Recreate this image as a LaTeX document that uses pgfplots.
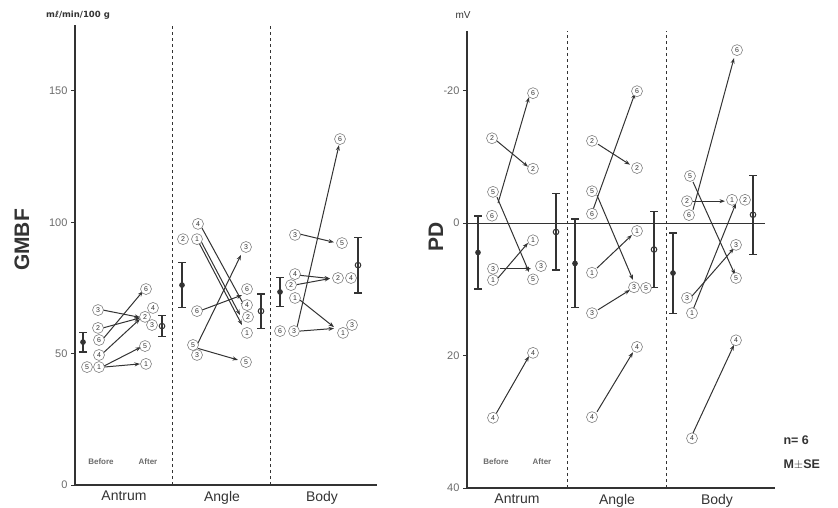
\documentclass[border=0pt]{standalone}
\usepackage{pgfplots}
\pgfplotsset{compat=1.18}
\usepackage{fontspec}
\setmainfont{Liberation Sans}
\newfontfamily\dejavu{DejaVu Sans}
\usetikzlibrary{arrows.meta}
\definecolor{ink}{gray}{0.2}
\definecolor{circ}{gray}{0.5}
\definecolor{tick}{gray}{0.42}

% circle labels: x y l
\pgfplotstableread{
x y l
98 66.6 3
98 59.8 2
99 55.2 6
99 49.5 4
87 44.9 5
99 44.9 1
146 74.6 6
153 67.4 4
145 64.0 2
152 60.9 3
145 52.9 5
146 46.1 1
198 99.4 4
183 93.6 2
197 93.6 1
197 66.2 6
193 53.3 5
197 49.5 3
246 90.6 3
247 74.6 6
247 68.5 4
248 64.0 2
247 57.9 1
246 46.8 5
295 95.2 3
295 80.3 4
291 76.1 2
295 71.2 1
280 58.6 6
294 58.6 3
340 131.7 6
342 92.1 5
338 78.8 2
351 78.8 4
352 60.9 3
343 57.9 1
}\leftcirc

\pgfplotstableread{
x y u v
103 66.6 37 -2.8
103 59.8 37 3.8
103 55.6 40 18.2
103 50.2 37 13
104 45.3 37 7.2
104 44.9 36 1.2
202 97.8 43 -30
201 92.8 39 -28.1
199 92.2 43 -31.3
202 66.6 40 5.7
196 52.5 45 35.1
198 52.0 40 -4.4
300 95.5 34 -3.1
298 79.9 32 -1.3
297 76.3 33 2.3
300 70.4 34 -10.3
300 58.6 34 1.0
297 60.0 42 69.4
}\leftarr

\pgfplotstableread{
x y l
492 -12.8 2
493 -4.7 5
492 -1.1 6
493 6.9 3
493 8.6 1
493 29.4 4
533 -19.6 6
533 -8.2 2
533 2.6 1
541 6.5 3
533 8.5 5
533 19.6 4
592 -12.4 2
592 -4.8 5
592 -1.4 6
592 7.5 1
592 13.6 3
592 29.3 4
637 -19.9 6
637 -8.3 2
637 1.2 1
634 9.7 3
646 9.8 5
637 18.7 4
690 -7.1 5
687 -3.3 2
689 -1.2 6
687 11.3 3
692 13.6 1
692 32.5 4
737 -26.1 6
732 -3.5 1
745 -3.5 2
736 3.3 3
736 8.3 5
736 17.7 4
}\rightcirc

\pgfplotstableread{
x y u v
498 -3.0 31 -16
496 -12.5 32 4
497 -3.9 32 11.3
500 6.9 31 0
498 8.3 30 -5.3
496 28.8 33 -8.7
593 -2.0 42 -17.6
598 -11.9 32 3.1
597 -4.2 36 12.8
597 6.8 35 -5
598 13.1 32 -3
597 28.5 36 -9
693 -2.0 41 -22.9
692 -3.3 33 0
693 -6.2 42 14
691 11.2 43 -7.4
693 13.1 43 -16.1
693 31.7 41 -13.3
}\rightarr

\pgfplotsset{
  circstyle/.style={draw=none, mark=none, nodes near coords, point meta=explicit symbolic,
    every node near coord/.append style={anchor=center, circle, draw=circ, fill=white, line width=0.6pt,
      inner sep=1pt, minimum size=11pt, text=ink, font=\fontsize{7}{7}\selectfont}},
  arrstyle/.style={ink, line width=1pt, -{Stealth[length=5.5pt,width=4pt]},
    quiver={u=\thisrow{u}, v=\thisrow{v}}},
  basestyle/.style={scale only axis, axis lines=left, axis line style={-, ink, line width=1.3pt},
    clip=false, tick align=outside, major tick length=4pt,
    ytick style={ink, line width=1pt}, xtick style={draw=none},
    /pgf/number format/assume math mode=true,
    yticklabel style={font=\fontsize{11}{12}\selectfont, text=tick},
    xticklabel style={font=\fontsize{14}{15}\selectfont, text=ink, inner sep=0pt, yshift=-2pt},
  },
  meanbefore/.style={only marks, ink, mark=*, mark size=2.3pt, line width=1pt,
    error bars/.cd, y dir=both, y explicit, error bar style={ink,line width=1.2pt},
    error mark options={ink, line width=1.2pt, mark size=4pt, rotate=90}},
  meanafter/.style={only marks, ink, mark=o, mark size=2.8pt, line width=1pt, mark options={fill=white},
    error bars/.cd, y dir=both, y explicit, error bar style={ink,line width=1.2pt},
    error mark options={ink, line width=1.2pt, mark size=4pt, rotate=90}},
}

\begin{document}
\begin{tikzpicture}[x=1pt,y=1pt]
\useasboundingbox (0,0) rectangle (838,507);
% ---------- left panel: GMBF
\begin{axis}[basestyle, at={(75pt,22pt)}, anchor=south west,
  width=302pt, height=459.7pt, xmin=75, xmax=377, ymin=0, ymax=175,
  ytick={0,50,100,150}, xtick={124,222,322}, xticklabels={Antrum,Angle,Body}]
\addplot[ink, dashed, line width=0.7pt] coordinates {(172,0) (172,175)};
\addplot[ink, dashed, line width=0.7pt] coordinates {(270,0) (270,175)};
\addplot[arrstyle] table {\leftarr};
\addplot[circstyle] table[meta=l] {\leftcirc};
\addplot[meanbefore] coordinates {(83,54.4) +- (0,3.8) (182,76.1) +- (0,8.6) (280,73.5) +- (0,5.5)};
\addplot[meanafter] coordinates {(162,60.5) +- (0,4.0) (261,66.2) +- (0,6.5) (358,83.7) +- (0,10.6)};
\end{axis}
% ---------- right panel: PD
\begin{axis}[basestyle, at={(467pt,19pt)}, anchor=south west,
  width=308pt, height=457.1pt, xmin=467, xmax=775, ymin=-29, ymax=40, y dir=reverse,
  ytick={-20,0,20,40}, xtick={517,617,717}, xticklabels={Antrum,Angle,Body}]
\addplot[ink, dashed, line width=0.7pt] coordinates {(567,40) (567,-29)};
\addplot[ink, dashed, line width=0.7pt] coordinates {(666,40) (666,-29)};
\addplot[ink, line width=0.9pt] coordinates {(467,0) (765,0)};
\addplot[arrstyle] table {\rightarr};
\addplot[circstyle] table[meta=l] {\rightcirc};
\addplot[meanbefore] coordinates {(478,4.45) +- (0,5.5) (575,6.1) +- (0,6.7) (673,7.55) +- (0,6.05)};
\addplot[meanafter] coordinates {(556,1.35) +- (0,5.75) (654,4.0) +- (0,5.7) (753,-1.25) +- (0,5.95)};
\end{axis}
% ---------- texts
\node[rotate=90, font=\bfseries\fontsize{21}{21}\selectfont, text=ink] at (22,267) {GMBF};
\node[rotate=90, font=\bfseries\fontsize{21}{21}\selectfont, text=ink] at (436,270) {PD};
\node[font=\dejavu\bfseries\fontsize{8.5}{9}\selectfont, text=ink] at (78,492) {mℓ/min/100 g};
\node[font=\fontsize{10}{11}\selectfont, text=ink] at (463,492) {mV};
\node[font=\bfseries\fontsize{8}{9}\selectfont, text=tick] at (101,45) {Before};
\node[font=\bfseries\fontsize{8}{9}\selectfont, text=tick] at (148,45) {After};
\node[font=\bfseries\fontsize{8}{9}\selectfont, text=tick] at (496,45) {Before};
\node[font=\bfseries\fontsize{8}{9}\selectfont, text=tick] at (542,45) {After};
\node[anchor=west, font=\bfseries\fontsize{12.5}{13}\selectfont, text=ink] at (780,67) {n= 6};
\node[anchor=west, font=\bfseries\fontsize{12.5}{13}\selectfont, text=ink] at (780,42) {M$\pm$SE};
\end{tikzpicture}
\end{document}
